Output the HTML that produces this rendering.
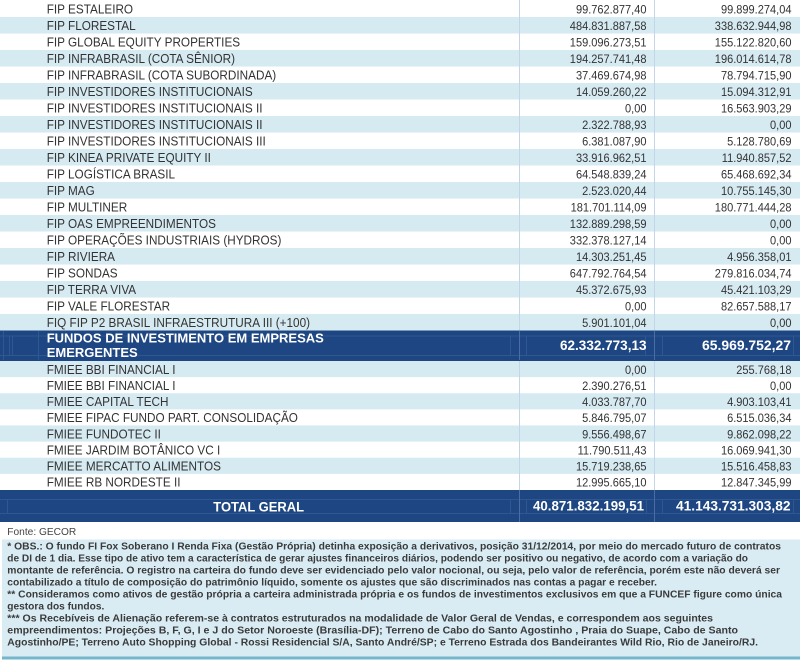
<!DOCTYPE html>
<html>
<head>
<meta charset="utf-8">
<style>
html,body{margin:0;padding:0;background:#fff;}
svg{display:block;}
text{font-family:"Liberation Sans",Arial,sans-serif;}
</style>
</head>
<body>
<svg width="800" height="662" viewBox="0 0 800 662" xmlns="http://www.w3.org/2000/svg" xml:space="preserve">
<rect x="0" y="0" width="800" height="662" fill="#ffffff"/>
<g fill="#d6eaf2">
<rect x="0" y="17" width="800" height="16.5"/>
<rect x="0" y="50" width="800" height="16.5"/>
<rect x="0" y="83" width="800" height="16.5"/>
<rect x="0" y="116" width="800" height="16.5"/>
<rect x="0" y="149" width="800" height="16.5"/>
<rect x="0" y="182" width="800" height="16.5"/>
<rect x="0" y="215" width="800" height="16.5"/>
<rect x="0" y="248" width="800" height="16.5"/>
<rect x="0" y="281" width="800" height="16.5"/>
<rect x="0" y="314" width="800" height="16.5"/>
<rect x="0" y="361" width="800" height="16.125"/>
<rect x="0" y="393.25" width="800" height="16.125"/>
<rect x="0" y="425.5" width="800" height="16.125"/>
<rect x="0" y="457.75" width="800" height="16.125"/>
</g>
<g stroke="#c3d6e7" stroke-width="1">
<line x1="519.5" y1="0" x2="519.5" y2="330.5"/>
<line x1="654.5" y1="0" x2="654.5" y2="330.5"/>
<line x1="519.5" y1="361" x2="519.5" y2="490"/>
<line x1="654.5" y1="361" x2="654.5" y2="490"/>
</g>
<rect x="0" y="330.5" width="800" height="30.5" fill="#1e4682"/>
<g stroke="#2f5890" stroke-width="1" fill="none">
<line x1="0" y1="336" x2="800" y2="336"/>
<line x1="0" y1="355.5" x2="800" y2="355.5"/>
<line x1="3.5" y1="331" x2="3.5" y2="360"/>
<line x1="9.5" y1="336" x2="9.5" y2="355"/>
<line x1="12.5" y1="336" x2="12.5" y2="355"/>
<line x1="38.5" y1="331" x2="38.5" y2="360"/>
<line x1="510.5" y1="336" x2="510.5" y2="355"/>
<line x1="526.5" y1="336" x2="526.5" y2="355"/>
<line x1="645.5" y1="336" x2="645.5" y2="355"/>
<line x1="662.5" y1="336" x2="662.5" y2="355"/>
<line x1="793.5" y1="336" x2="793.5" y2="355"/>
</g>
<g stroke="#4a6ea3" stroke-width="1">
<line x1="519.5" y1="331" x2="519.5" y2="360"/>
<line x1="654.5" y1="331" x2="654.5" y2="360"/>
</g>
<rect x="0" y="490" width="800" height="32" fill="#1e4682"/>
<g stroke="#2f5890" stroke-width="1" fill="none">
<line x1="0" y1="499.5" x2="800" y2="499.5"/>
<line x1="0" y1="513.5" x2="800" y2="513.5"/>
<line x1="7.5" y1="499" x2="7.5" y2="514"/>
<line x1="510.5" y1="499" x2="510.5" y2="514"/>
<line x1="526.5" y1="499" x2="526.5" y2="514"/>
<line x1="646.5" y1="499" x2="646.5" y2="514"/>
<line x1="662.5" y1="499" x2="662.5" y2="514"/>
<line x1="793.5" y1="499" x2="793.5" y2="514"/>
</g>
<g stroke="#4a6ea3" stroke-width="1">
<line x1="519.5" y1="490" x2="519.5" y2="522"/>
<line x1="654.5" y1="490" x2="654.5" y2="522"/>
</g>

<g transform="translate(46.7,0) scale(0.94,1)" font-size="12.5" fill="#333">
<text x="0" y="13.3">FIP ESTALEIRO</text>
<text x="0" y="29.8">FIP FLORESTAL</text>
<text x="0" y="46.3">FIP GLOBAL EQUITY PROPERTIES</text>
<text x="0" y="62.8">FIP INFRABRASIL (COTA SÊNIOR)</text>
<text x="0" y="79.3">FIP INFRABRASIL (COTA SUBORDINADA)</text>
<text x="0" y="95.8">FIP INVESTIDORES INSTITUCIONAIS</text>
<text x="0" y="112.3">FIP INVESTIDORES INSTITUCIONAIS II</text>
<text x="0" y="128.8">FIP INVESTIDORES INSTITUCIONAIS II</text>
<text x="0" y="145.3">FIP INVESTIDORES INSTITUCIONAIS III</text>
<text x="0" y="161.8">FIP KINEA PRIVATE EQUITY II</text>
<text x="0" y="178.3">FIP LOGÍSTICA BRASIL</text>
<text x="0" y="194.8">FIP MAG</text>
<text x="0" y="211.3">FIP MULTINER</text>
<text x="0" y="227.8">FIP OAS EMPREENDIMENTOS</text>
<text x="0" y="244.3">FIP OPERAÇÕES INDUSTRIAIS (HYDROS)</text>
<text x="0" y="260.8">FIP RIVIERA</text>
<text x="0" y="277.3">FIP SONDAS</text>
<text x="0" y="293.8">FIP TERRA VIVA</text>
<text x="0" y="310.3">FIP VALE FLORESTAR</text>
<text x="0" y="326.8">FIQ FIP P2 BRASIL INFRAESTRUTURA III (+100)</text>
<text x="0" y="373.8">FMIEE BBI FINANCIAL I</text>
<text x="0" y="389.9">FMIEE BBI FINANCIAL I</text>
<text x="0" y="406.1">FMIEE CAPITAL TECH</text>
<text x="0" y="422.2">FMIEE FIPAC FUNDO PART. CONSOLIDAÇÃO</text>
<text x="0" y="438.3">FMIEE FUNDOTEC II</text>
<text x="0" y="454.4">FMIEE JARDIM BOTÂNICO VC I</text>
<text x="0" y="470.6">FMIEE MERCATTO ALIMENTOS</text>
<text x="0" y="486.7">FMIEE RB NORDESTE II</text>
</g>

<g transform="translate(646.5,0) scale(0.96,1)" font-size="11.5" fill="#333" text-anchor="end">
<text x="0" y="13.3">99.762.877,40</text>
<text x="0" y="29.8">484.831.887,58</text>
<text x="0" y="46.3">159.096.273,51</text>
<text x="0" y="62.8">194.257.741,48</text>
<text x="0" y="79.3">37.469.674,98</text>
<text x="0" y="95.8">14.059.260,22</text>
<text x="0" y="112.3">0,00</text>
<text x="0" y="128.8">2.322.788,93</text>
<text x="0" y="145.3">6.381.087,90</text>
<text x="0" y="161.8">33.916.962,51</text>
<text x="0" y="178.3">64.548.839,24</text>
<text x="0" y="194.8">2.523.020,44</text>
<text x="0" y="211.3">181.701.114,09</text>
<text x="0" y="227.8">132.889.298,59</text>
<text x="0" y="244.3">332.378.127,14</text>
<text x="0" y="260.8">14.303.251,45</text>
<text x="0" y="277.3">647.792.764,54</text>
<text x="0" y="293.8">45.372.675,93</text>
<text x="0" y="310.3">0,00</text>
<text x="0" y="326.8">5.901.101,04</text>
<text x="0" y="373.8">0,00</text>
<text x="0" y="389.9">2.390.276,51</text>
<text x="0" y="406.1">4.033.787,70</text>
<text x="0" y="422.2">5.846.795,07</text>
<text x="0" y="438.3">9.556.498,67</text>
<text x="0" y="454.4">11.790.511,43</text>
<text x="0" y="470.6">15.719.238,65</text>
<text x="0" y="486.7">12.995.665,10</text>
</g>

<g transform="translate(791.5,0) scale(0.96,1)" font-size="11.5" fill="#333" text-anchor="end">
<text x="0" y="13.3">99.899.274,04</text>
<text x="0" y="29.8">338.632.944,98</text>
<text x="0" y="46.3">155.122.820,60</text>
<text x="0" y="62.8">196.014.614,78</text>
<text x="0" y="79.3">78.794.715,90</text>
<text x="0" y="95.8">15.094.312,91</text>
<text x="0" y="112.3">16.563.903,29</text>
<text x="0" y="128.8">0,00</text>
<text x="0" y="145.3">5.128.780,69</text>
<text x="0" y="161.8">11.940.857,52</text>
<text x="0" y="178.3">65.468.692,34</text>
<text x="0" y="194.8">10.755.145,30</text>
<text x="0" y="211.3">180.771.444,28</text>
<text x="0" y="227.8">0,00</text>
<text x="0" y="244.3">0,00</text>
<text x="0" y="260.8">4.956.358,01</text>
<text x="0" y="277.3">279.816.034,74</text>
<text x="0" y="293.8">45.421.103,29</text>
<text x="0" y="310.3">82.657.588,17</text>
<text x="0" y="326.8">0,00</text>
<text x="0" y="373.8">255.768,18</text>
<text x="0" y="389.9">0,00</text>
<text x="0" y="406.1">4.903.103,41</text>
<text x="0" y="422.2">6.515.036,34</text>
<text x="0" y="438.3">9.862.098,22</text>
<text x="0" y="454.4">16.069.941,30</text>
<text x="0" y="470.6">15.516.458,83</text>
<text x="0" y="486.7">12.847.345,99</text>
</g>

<g fill="#ffffff" font-weight="bold">
<text x="46.7" y="342.7" font-size="13">FUNDOS DE INVESTIMENTO EM EMPRESAS</text>
<text x="46.7" y="357" font-size="13">EMERGENTES</text>
<text x="560" y="350" font-size="14" textLength="86.5" lengthAdjust="spacingAndGlyphs">62.332.773,13</text>
<text x="702" y="350" font-size="14" textLength="89" lengthAdjust="spacingAndGlyphs">65.969.752,27</text>
<text x="213.3" y="511.5" font-size="13.5" textLength="90.7" lengthAdjust="spacingAndGlyphs">TOTAL GERAL</text>
<text x="533" y="510.7" font-size="14" textLength="111" lengthAdjust="spacingAndGlyphs">40.871.832.199,51</text>
<text x="676" y="510.7" font-size="14" textLength="114.5" lengthAdjust="spacingAndGlyphs">41.143.731.303,82</text>
</g>

<text x="7.3" y="535" font-size="10.5" fill="#444" textLength="69" lengthAdjust="spacingAndGlyphs">Fonte: GECOR</text>

<rect x="2" y="539.5" width="798" height="117.5" fill="#d9ecf4"/>
<rect x="2" y="656.5" width="798" height="3" fill="#75b6cc"/>
<g font-size="9.8" font-weight="bold" fill="#3a3a3a">
<text x="7.3" y="549.3" textLength="773.7" lengthAdjust="spacingAndGlyphs">* OBS.:  O fundo FI Fox Soberano I Renda Fixa (Gestão Própria) detinha exposição a derivativos, posição 31/12/2014, por meio do mercado futuro de contratos</text>
<text x="7.3" y="561.3" textLength="740.7" lengthAdjust="spacingAndGlyphs">de DI de 1 dia.  Esse tipo de ativo tem a característica de gerar ajustes financeiros diários, podendo ser positivo ou negativo, de acordo com  a variação do</text>
<text x="7.3" y="573.3" textLength="772.7" lengthAdjust="spacingAndGlyphs">montante de referência. O registro na carteira do fundo deve ser evidenciado pelo valor nocional, ou seja, pelo valor de referência, porém este não deverá ser</text>
<text x="7.3" y="585.3" textLength="649.7" lengthAdjust="spacingAndGlyphs">contabilizado a título de composição do patrimônio líquido, somente os ajustes que são discriminados nas contas a pagar e receber.</text>
<text x="7.3" y="597.3" textLength="774.7" lengthAdjust="spacingAndGlyphs">** Consideramos como ativos de gestão própria a carteira administrada própria e os fundos de investimentos exclusivos em que a FUNCEF figure como única</text>
<text x="7.3" y="609.3" textLength="97" lengthAdjust="spacingAndGlyphs">gestora dos fundos.</text>
<text x="7.3" y="621.3" textLength="705.7" lengthAdjust="spacingAndGlyphs">*** Os Recebíveis de Alienação referem-se à contratos estruturados na modalidade de Valor Geral de Vendas, e correspondem aos seguintes</text>
<text x="7.3" y="633.3" textLength="730.7" lengthAdjust="spacingAndGlyphs">empreendimentos:  Projeções B, F, G, I e J do Setor Noroeste (Brasília-DF); Terreno de Cabo do Santo Agostinho , Praia do Suape,  Cabo de Santo</text>
<text x="7.3" y="645.3" textLength="750.7" lengthAdjust="spacingAndGlyphs">Agostinho/PE; Terreno Auto Shopping Global - Rossi Residencial S/A, Santo André/SP; e Terreno Estrada dos Bandeirantes  Wild Rio, Rio de Janeiro/RJ.</text>
</g>
</svg>
</body>
</html>
